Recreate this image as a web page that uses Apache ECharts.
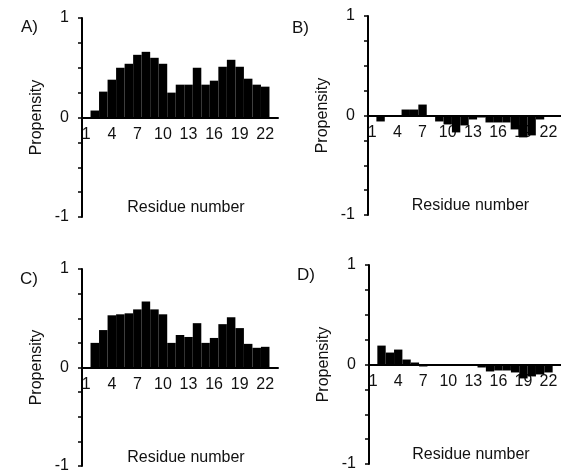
<!DOCTYPE html>
<html>
<head>
<meta charset="utf-8">
<script src="https://cdn.jsdelivr.net/npm/echarts@6/dist/echarts.min.js"></script>
<style>
  html, body { margin: 0; padding: 0; background: #fff; }
  #chart { width: 561px; height: 472px; }
</style>
</head>
<body>
<div id="chart"></div>
<script>
// residue numbers 1..22 (one spare empty band at the end, as in the figure)
var residues = ["1","2","3","4","5","6","7","8","9","10","11","12","13","14","15","16","17","18","19","20","21","22",""];

var propA = [0, 0.07, 0.26, 0.38, 0.50, 0.54, 0.63, 0.66, 0.60, 0.54, 0.25, 0.33, 0.33, 0.50, 0.33, 0.37, 0.51, 0.58, 0.51, 0.39, 0.33, 0.31];
var propB = [0, -0.06, -0.01, -0.01, 0.06, 0.06, 0.11, 0, -0.06, -0.09, -0.17, -0.10, -0.04, -0.02, -0.07, -0.07, -0.07, -0.14, -0.22, -0.20, -0.04, 0];
var propC = [0, 0.25, 0.38, 0.53, 0.54, 0.55, 0.59, 0.67, 0.59, 0.54, 0.25, 0.33, 0.31, 0.45, 0.25, 0.30, 0.44, 0.51, 0.40, 0.24, 0.20, 0.21];
var propD = [0, 0.19, 0.12, 0.15, 0.05, 0.02, -0.02, 0, 0, 0, 0, 0, -0.01, -0.03, -0.07, -0.06, -0.06, -0.08, -0.14, -0.12, -0.10, -0.08];

var panelLetters = ["A)", "B)", "C)", "D)"];
var yTickLabels = ["-1", "0", "1"];

var FONT = "Liberation Sans, Arial, sans-serif";
var myChart = echarts.init(document.getElementById("chart"));

// grid boxes for the four panels (y runs -1..1, so zero sits at mid height)
var boxes = [
  { left: 82, top: 18, width: 196, height: 199 },
  { left: 368, top: 16, width: 193, height: 199 },
  { left: 82, top: 269, width: 196, height: 197 },
  { left: 369, top: 265, width: 192, height: 199 }
];
var letterPos = [[21, 19], [292, 20], [20, 271], [297, 267]];
var data = [propA, propB, propC, propD];

var grids = [], xAxes = [], yAxes = [], series = [], titles = [];
for (var i = 0; i < 4; i++) {
  grids.push({
    left: boxes[i].left, top: boxes[i].top, width: boxes[i].width, height: boxes[i].height,
    containLabel: false, outerBoundsMode: "none"
  });
  xAxes.push({
    type: "category",
    gridIndex: i,
    data: residues,
    position: "bottom",
    offset: -boxes[i].height / 2, // put the category axis (line, labels, name) on y = 0
    name: "Residue number",
    nameLocation: "middle",
    nameGap: 82,
    nameTextStyle: { fontFamily: FONT, fontSize: 16, color: "#111", padding: [0, 0, 0, 12] },
    axisLine: { onZero: false, lineStyle: { color: "#000", width: 2 } },
    axisTick: { show: false },
    axisLabel: { interval: 2, margin: 9, fontFamily: FONT, fontSize: 16, color: "#111" },
    splitLine: { show: false }
  });
  yAxes.push({
    type: "value",
    gridIndex: i,
    min: -1,
    max: 1,
    interval: 0.25,
    name: "Propensity",
    nameLocation: "middle",
    nameRotate: 90,
    nameGap: 37,
    nameTextStyle: { fontFamily: FONT, fontSize: 16, color: "#111" },
    axisLine: { show: true, onZero: false, lineStyle: { color: "#000", width: 2 } },
    axisTick: { show: true, length: 4, lineStyle: { color: "#000", width: 1.5 } },
    axisLabel: {
      margin: 13,
      fontFamily: FONT,
      fontSize: 16,
      color: "#111",
      formatter: function (v) {
        var s = String(Math.round(v));
        return (Math.abs(v - Math.round(v)) < 1e-6 && yTickLabels.indexOf(s) >= 0) ? s : "";
      }
    },
    splitLine: { show: false }
  });
  series.push({
    type: "bar",
    xAxisIndex: i,
    yAxisIndex: i,
    data: data[i],
    barCategoryGap: "0%",
    itemStyle: { color: "#000" },
    silent: true
  });
  titles.push({
    text: panelLetters[i],
    left: letterPos[i][0],
    top: letterPos[i][1],
    padding: 0,
    textStyle: { fontFamily: FONT, fontSize: 17, fontWeight: "normal", color: "#111" }
  });
}

myChart.setOption({
  animation: false,
  title: titles,
  grid: grids,
  xAxis: xAxes,
  yAxis: yAxes,
  series: series
});
</script>
</body>
</html>
